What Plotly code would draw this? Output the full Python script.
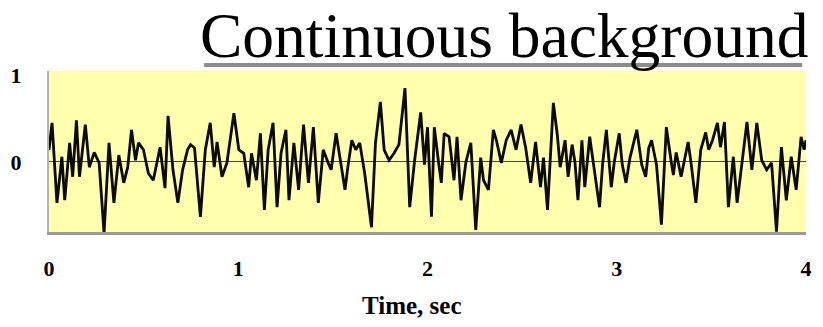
import plotly.graph_objects as go

# Sampled background signal: time (s) and amplitude
time_s = [
    0.000, 0.016, 0.042, 0.068, 0.083, 0.109, 0.125, 0.145, 0.161, 0.192,
    0.213, 0.239, 0.265, 0.291, 0.317, 0.343, 0.369, 0.395, 0.416, 0.436,
    0.457, 0.473, 0.499, 0.525, 0.551, 0.587, 0.613, 0.629, 0.655, 0.681,
    0.706, 0.732, 0.748, 0.769, 0.800, 0.826, 0.852, 0.873, 0.888, 0.914,
    0.940, 0.977, 1.003, 1.029, 1.055, 1.070, 1.096, 1.117, 1.138, 1.158,
    1.184, 1.205, 1.226, 1.252, 1.268, 1.294, 1.319, 1.345, 1.371, 1.397,
    1.423, 1.449, 1.475, 1.491, 1.517, 1.538, 1.564, 1.579, 1.600, 1.621,
    1.642, 1.668, 1.704, 1.725, 1.751, 1.771, 1.797, 1.823, 1.849, 1.881,
    1.906, 1.932, 1.964, 1.984, 2.000, 2.021, 2.036, 2.057, 2.073, 2.088,
    2.114, 2.140, 2.156, 2.177, 2.203, 2.229, 2.255, 2.281, 2.296, 2.322,
    2.348, 2.364, 2.390, 2.416, 2.442, 2.468, 2.494, 2.519, 2.545, 2.571,
    2.597, 2.613, 2.634, 2.665, 2.686, 2.701, 2.727, 2.743, 2.764, 2.779,
    2.795, 2.816, 2.831, 2.857, 2.894, 2.909, 2.925, 2.945, 2.971, 2.987,
    3.013, 3.029, 3.049, 3.070, 3.106, 3.132, 3.153, 3.169, 3.184, 3.210,
    3.236, 3.262, 3.288, 3.299, 3.314, 3.340, 3.377, 3.392, 3.418, 3.444,
    3.470, 3.486, 3.506, 3.532, 3.548, 3.569, 3.590, 3.616, 3.636, 3.662,
    3.688, 3.714, 3.740, 3.766, 3.792, 3.818, 3.844, 3.870, 3.896, 3.922,
    3.948, 3.974, 3.990, 4.000,
]
amplitude = [
    0.14, 0.45, -0.47, 0.06, -0.44, 0.22, -0.17, 0.48, -0.17, 0.43,
    -0.06, 0.11, -0.01, -0.82, 0.22, -0.47, 0.08, -0.24, -0.06, 0.37,
    0.02, 0.22, 0.14, -0.13, -0.21, 0.17, -0.30, 0.53, -0.09, -0.47,
    -0.09, 0.14, 0.20, 0.16, -0.63, 0.14, 0.45, -0.06, 0.23, -0.17,
    -0.01, 0.56, 0.14, 0.10, -0.29, 0.10, -0.21, 0.33, -0.55, 0.14,
    0.45, -0.52, 0.10, 0.37, -0.44, 0.22, -0.32, 0.43, -0.24, 0.40,
    -0.47, 0.14, -0.01, -0.09, 0.33, 0.06, -0.32, -0.06, 0.25, 0.14,
    0.22, -0.13, -0.75, 0.22, 0.69, 0.14, 0.02, 0.10, 0.20, 0.85,
    -0.52, 0.02, 0.57, -0.03, 0.40, -0.63, 0.40, 0.02, -0.24, 0.33,
    0.29, -0.21, 0.29, -0.44, 0.00, 0.22, -0.78, 0.05, -0.21, -0.32,
    0.37, 0.25, -0.01, 0.25, 0.37, 0.14, 0.43, 0.16, -0.24, 0.23,
    -0.29, 0.05, -0.55, 0.68, 0.31, -0.06, 0.25, -0.17, 0.20, 0.00,
    -0.44, 0.25, -0.29, 0.29, -0.29, -0.52, -0.03, 0.37, -0.29, 0.00,
    0.33, -0.03, -0.24, 0.05, 0.37, -0.03, -0.17, 0.16, 0.25, -0.03,
    -0.72, 0.40, 0.00, -0.15, 0.11, -0.17, 0.23, 0.00, -0.47, 0.14,
    0.34, 0.14, 0.25, 0.45, 0.17, 0.46, -0.52, 0.06, -0.47, -0.01,
    0.46, -0.09, 0.45, 0.02, -0.09, -0.01, -0.80, 0.17, -0.44, 0.06,
    -0.32, 0.29, 0.14, 0.25,
]

x_ticks = [0, 1, 2, 3, 4]
y_ticks = [0, 1]
title_text = "Continuous background"
x_title = "Time, sec"

SERIF = "Liberation Serif"

fig = go.Figure()
fig.add_trace(go.Scatter(
    x=time_s, y=amplitude, mode="lines",
    line=dict(color="#0a0a00", width=2.8),
    hoverinfo="skip", showlegend=False,
))

fig.update_layout(
    width=823, height=327,
    margin=dict(l=42, r=11, t=71, b=95),
    paper_bgcolor="white",
    plot_bgcolor="#FFFFAE",
    font=dict(family=SERIF, color="black"),
    xaxis=dict(
        range=[0, 4], tickvals=x_ticks, ticktext=[f"<b>{v}</b>" for v in x_ticks],
        showgrid=False, zeroline=False, ticks="",
        showline=True, linecolor="#9a9a9a", linewidth=3,
        tickfont=dict(size=22, family=SERIF), ticklabelstandoff=15,
    ),
    yaxis=dict(
        range=[-0.805, 1.046], tickvals=y_ticks, ticktext=[f"<b>{v}</b>" for v in y_ticks],
        showgrid=False, ticks="",
        zeroline=True, zerolinecolor="#4a4a30", zerolinewidth=1.2,
        showline=True, linecolor="#b8b49a", linewidth=2,
        tickfont=dict(size=22, family=SERIF), ticklabelstandoff=21,
    ),
    annotations=[
        dict(
            text=title_text, xref="paper", yref="paper",
            x=1.006, y=0.985, xanchor="right", yanchor="bottom",
            showarrow=False, font=dict(size=63.5, family=SERIF, color="black"),
        ),
        dict(
            text=f"<b>{x_title}</b>", xref="paper", yref="paper",
            x=0.48, y=-0.455, xanchor="center", yanchor="middle",
            showarrow=False, font=dict(size=25, family=SERIF, color="black"),
        ),
    ],
    shapes=[dict(
        type="line", xref="paper", yref="paper",
        x0=0.205, x1=0.995, y0=1.037, y1=1.037,
        line=dict(color="#8c8c8c", width=4),
    )],
)

fig.write_html("out.html")
